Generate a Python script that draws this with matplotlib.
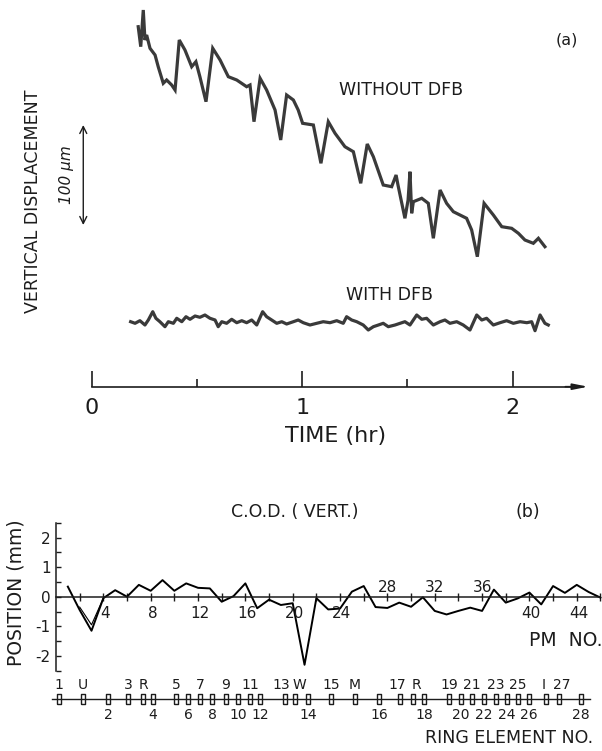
import matplotlib
matplotlib.use("Agg")
import matplotlib.pyplot as plt

plt.rcParams["font.family"] = ["DejaVu Sans"]

W, H = 602, 751
INK = "#1c1c1c"
TRACE = "#3a3a3a"

# ---- panel (a): beam vertical displacement vs time (1 px ~ 1 um in the original)
t_without = [0.221, 0.233, 0.245, 0.253, 0.261, 0.277, 0.301, 0.316, 0.340, 0.356,
             0.380, 0.396, 0.400, 0.416, 0.443, 0.475, 0.495, 0.514, 0.543, 0.575,
             0.610, 0.649, 0.689, 0.736, 0.752, 0.771, 0.800, 0.831, 0.871, 0.898,
             0.926, 0.958, 0.981, 1.002, 1.053, 1.089, 1.124, 1.156, 1.203, 1.243,
             1.278, 1.309, 1.338, 1.385, 1.425, 1.446, 1.455, 1.488, 1.503, 1.512,
             1.520, 1.528, 1.568, 1.599, 1.623, 1.655, 1.686, 1.718, 1.781, 1.805,
             1.832, 1.864, 1.908, 1.948, 1.995, 2.027, 2.058, 2.098, 2.122, 2.153]
d_without = [360.0, 340.0, 376.7, 346.7, 351.7, 338.4, 331.7, 320.0, 303.4, 306.7,
             301.7, 296.7, 306.7, 346.7, 336.7, 320.0, 325.0, 310.0, 285.0, 338.4,
             326.7, 310.0, 306.7, 300.0, 301.7, 265.0, 308.4, 296.7, 276.7, 246.7,
             291.7, 286.7, 276.7, 263.4, 261.7, 223.4, 265.0, 253.4, 240.0, 235.0,
             203.4, 242.7, 230.0, 201.7, 200.0, 211.7, 201.7, 168.4, 186.7, 215.0,
             173.4, 185.0, 188.4, 183.4, 148.4, 196.7, 183.4, 175.0, 168.4, 156.7,
             130.0, 183.4, 171.7, 160.0, 158.4, 153.4, 146.7, 143.4, 148.4, 140.0]

t_with = [0.185, 0.206, 0.229, 0.253, 0.269, 0.290, 0.305, 0.324, 0.348, 0.364,
          0.388, 0.404, 0.428, 0.448, 0.467, 0.491, 0.514, 0.538, 0.562, 0.586,
          0.601, 0.618, 0.641, 0.665, 0.689, 0.713, 0.736, 0.760, 0.784, 0.812,
          0.831, 0.855, 0.879, 0.903, 0.926, 0.958, 0.981, 1.005, 1.037, 1.069,
          1.100, 1.132, 1.164, 1.195, 1.211, 1.235, 1.259, 1.290, 1.314, 1.338,
          1.362, 1.385, 1.409, 1.441, 1.465, 1.488, 1.512, 1.544, 1.568, 1.591,
          1.623, 1.655, 1.678, 1.702, 1.734, 1.765, 1.797, 1.829, 1.853, 1.876,
          1.908, 1.940, 1.971, 2.003, 2.035, 2.067, 2.090, 2.106, 2.130, 2.153, 2.169]
d_with = [65.0, 63.4, 66.0, 61.7, 66.7, 75.0, 68.4, 65.0, 60.0, 65.0,
          63.4, 68.4, 65.0, 70.0, 67.4, 70.7, 69.4, 71.7, 68.4, 66.7,
          60.0, 65.0, 63.4, 67.4, 64.0, 66.0, 64.0, 66.7, 61.7, 75.0,
          70.0, 66.7, 63.4, 65.0, 62.7, 65.0, 66.7, 64.0, 61.7, 63.4,
          65.0, 64.0, 66.0, 63.4, 70.0, 66.7, 65.0, 61.7, 56.7, 60.0,
          61.7, 63.4, 60.0, 61.7, 63.4, 65.0, 61.7, 71.7, 67.4, 68.4,
          61.7, 65.0, 66.7, 63.4, 65.0, 61.7, 56.7, 71.7, 66.7, 68.4,
          61.7, 64.0, 66.0, 63.4, 65.0, 64.0, 65.0, 56.0, 71.7, 63.4, 61.7]

time_ticks = [0, 1, 2]
time_minor = [0.5, 1.5]

# ---- panel (b): closed orbit distortion at the position monitors
pm_no = list(range(1, 47))
cod_mm = [0.34, -0.45, -1.15, -0.05, 0.22, 0.00, 0.40, 0.20, 0.56, 0.20,
          0.45, 0.30, 0.28, -0.17, 0.02, 0.45, -0.39, -0.10, -0.28, -0.22,
          -2.30, -0.05, -0.43, -0.40, 0.17, 0.36, -0.35, -0.38, -0.20, -0.34,
          -0.02, -0.48, -0.60, -0.48, -0.37, -0.48, 0.24, -0.20, -0.06, 0.14,
          -0.26, 0.36, 0.13, 0.40, 0.16, -0.03]
pm_alt = [2, 3, 4]
cod_alt = [-0.35, -0.95, -0.05]
pm_labels_below = [4, 8, 12, 16, 20, 24, 40, 44]
pm_labels_above = [28, 32, 36]
pos_ticks = [-2, -1, 0, 1, 2]

# ring elements: label, location (PM-number scale), label above?
ring_names = ["1", "U", "2", "3", "R", "4", "5", "6", "7", "8", "9", "10", "11", "12",
              "13", "W", "14", "15", "M", "16", "17", "R", "18", "19", "20", "21", "22",
              "23", "24", "25", "26", "I", "27", "28"]
ring_pos = [0.25, 2.28, 4.39, 6.08, 7.35, 8.20, 10.14, 11.15, 12.17, 13.18, 14.36, 15.38,
            16.39, 17.24, 19.35, 20.19, 21.29, 23.24, 25.26, 27.29, 29.07, 30.17, 31.09,
            33.21, 34.22, 35.15, 36.16, 37.18, 38.11, 39.04, 39.97, 41.40, 42.50, 44.36]
ring_above = [True, True, False, True, True, False, True, False, True, False, True, False,
              True, False, True, True, False, True, True, False, True, True, False,
              True, False, True, False, True, False, True, False, True, True, False]


def px(x, y):
    return x / W, 1 - y / H


fig = plt.figure(figsize=(W / 100, H / 100), dpi=100)
fig.patch.set_facecolor("white")

# panel (a) -------------------------------------------------------------------
axA = fig.add_axes([0, 1 - 460 / H, 1, 460 / H])
axA.set_xlim(-0.4356, 2.4242)
axA.set_ylim(-73.3, 386.7)
axA.patch.set_alpha(0)
for s in ["top", "right", "left"]:
    axA.spines[s].set_visible(False)
axA.yaxis.set_visible(False)
axA.spines["bottom"].set_position(("data", 0))
axA.spines["bottom"].set_bounds(0, 2.3)
axA.spines["bottom"].set_linewidth(1.2)
axA.spines["bottom"].set_color(INK)
axA.set_xticks(time_ticks)
axA.set_xticklabels([str(v) for v in time_ticks])
axA.set_xticks(time_minor, minor=True)
axA.tick_params(axis="x", which="major", direction="in", length=11.5, width=1.2,
                pad=8, labelsize=16, colors=INK)
axA.tick_params(axis="x", which="minor", direction="in", length=5.5, width=1.2, colors=INK)
axA.annotate("", xy=(2.358, 0), xytext=(2.25, 0),
             arrowprops=dict(arrowstyle="-|>,head_length=0.9,head_width=0.18",
                             color=INK, lw=1.2, shrinkA=0, shrinkB=0))

axA.plot(t_without, d_without, color=TRACE, lw=2.3, solid_joinstyle="miter")
axA.plot(t_with, d_with, color=TRACE, lw=2.3)

# 100 um scale bar
axA.annotate("", xy=(-0.040, 261.7), xytext=(-0.040, 161.7),
             arrowprops=dict(arrowstyle="<->,head_length=0.5,head_width=0.25",
                             color=INK, lw=1.0, shrinkA=0, shrinkB=0))

fig.text(*px(401, 90), "WITHOUT DFB", fontsize=12.5, color=INK, ha="center", va="center")
fig.text(*px(390, 295), "WITH DFB", fontsize=12.5, color=INK, ha="center", va="center")
fig.text(*px(336, 436), "TIME (hr)", fontsize=16, color=INK, ha="center", va="center")
fig.text(*px(567, 40), "(a)", fontsize=11.5, color=INK, ha="center", va="center")
fig.text(*px(33, 201), "VERTICAL DISPLACEMENT", fontsize=12.5, color=INK, rotation=90,
         ha="center", va="center")
fig.text(*px(66, 175), "100 μm", fontsize=11, color=INK, rotation=90, style="italic",
         ha="center", va="center")

# panel (b) -------------------------------------------------------------------
axB = fig.add_axes([0, 1 - 680 / H, 1, 180 / H])
axB.set_xlim(-4.732, 46.134)
axB.set_ylim(-2.814, 3.267)
axB.patch.set_alpha(0)
for s in ["top", "right"]:
    axB.spines[s].set_visible(False)
axB.spines["left"].set_position(("data", 0))
axB.spines["left"].set_bounds(-2.5, 2.5)
axB.spines["bottom"].set_position(("data", 0))
axB.spines["bottom"].set_bounds(0, 46)
for s in ["left", "bottom"]:
    axB.spines[s].set_linewidth(1.1)
    axB.spines[s].set_color(INK)
axB.set_yticks(pos_ticks)
axB.set_yticklabels([str(v) for v in pos_ticks])
axB.set_yticks([v + 0.5 for v in [-3] + pos_ticks], minor=True)
axB.tick_params(axis="y", which="both", direction="in", length=3.5, width=1.0,
                pad=4, labelsize=11, colors=INK)
axB.set_xticks(list(range(2, 47, 2)))
axB.tick_params(axis="x", direction="inout", length=6, width=1.0, labelbottom=False,
                colors=INK)

axB.plot(pm_no, cod_mm, color="black", lw=1.4)
axB.plot(pm_alt, cod_alt, color="black", lw=0.8)
for n in pm_labels_below:
    axB.text(n + 0.15, -0.56, str(n), fontsize=11, color=INK, ha="center", va="center")
for n in pm_labels_above:
    axB.text(n, 0.31, str(n), fontsize=11, color=INK, ha="center", va="center")

fig.text(*px(295, 512), "C.O.D. ( VERT.)", fontsize=12.5, color=INK, ha="center", va="center")
fig.text(*px(528, 512), "(b)", fontsize=12.5, color=INK, ha="center", va="center")
fig.text(*px(16, 593), "POSITION (mm)", fontsize=13.5, color=INK, rotation=90,
         ha="center", va="center")
fig.text(*px(566, 640), "PM  NO.", fontsize=13.5, color=INK, ha="center", va="center")

# ring element strip ------------------------------------------------------------
axR = fig.add_axes([0, 0, 1, 71 / H])
axR.set_xlim(-4.732, 46.134)
axR.set_ylim(-51.7, 19.3)
axR.axis("off")
axR.plot([-0.36, 45.12], [0, 0], color=INK, lw=1.0)
elem = [(-0.33, -1), (0.33, -1), (0.33, 1), (-0.33, 1), (-0.33, -1)]
axR.plot(ring_pos, [0] * len(ring_pos), ls="none", marker=elem, markersize=7.5,
         markerfacecolor="none", markeredgecolor=INK, markeredgewidth=1.0)
# crowded pairs ("13W", "17R", "I 27") are nudged apart so they read as in the original
nudge = {14: -0.35, 15: 0.4, 20: -0.2, 21: 0.25, 31: -0.2, 32: 0.25}
for i, (name, p, up) in enumerate(zip(ring_names, ring_pos, ring_above)):
    axR.text(p + nudge.get(i, 0), 14.3 if up else -15.7, name, fontsize=10, color=INK,
             ha="center", va="center")
fig.text(*px(509, 738), "RING ELEMENT NO.", fontsize=12.5, color=INK, ha="center", va="center")

fig.savefig("out.png", dpi=100, facecolor="white")
